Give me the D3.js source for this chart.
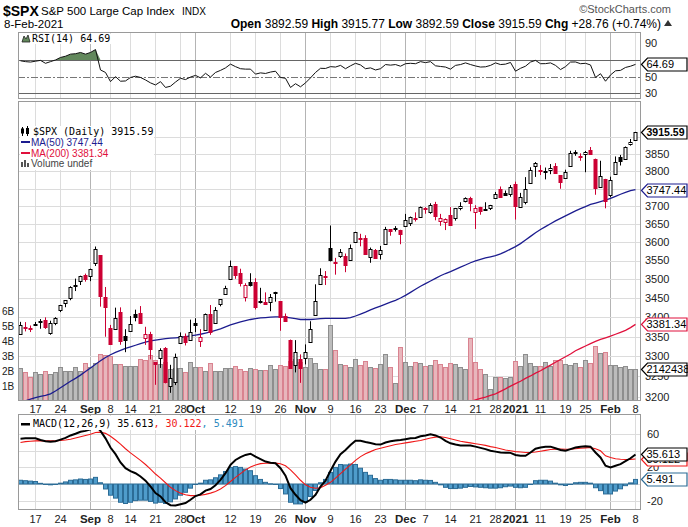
<!DOCTYPE html>
<html><head><meta charset="utf-8">
<script src="https://cdn.jsdelivr.net/npm/d3@7"></script>
<style>body{margin:0;background:#fff}svg{display:block}</style>
</head><body><svg id="c" width="688" height="527" font-family="Liberation Sans, Arial, sans-serif"></svg>
<script>
const dates = ["2020-08-12","2020-08-13","2020-08-14","2020-08-17","2020-08-18","2020-08-19","2020-08-20","2020-08-21","2020-08-24","2020-08-25","2020-08-26","2020-08-27","2020-08-28","2020-08-31",
"2020-09-01","2020-09-02","2020-09-03","2020-09-04","2020-09-08","2020-09-09","2020-09-10","2020-09-11","2020-09-14","2020-09-15","2020-09-16","2020-09-17","2020-09-18","2020-09-21","2020-09-22","2020-09-23","2020-09-24","2020-09-25","2020-09-28","2020-09-29","2020-09-30",
"2020-10-01","2020-10-02","2020-10-05","2020-10-06","2020-10-07","2020-10-08","2020-10-09","2020-10-12","2020-10-13","2020-10-14","2020-10-15","2020-10-16","2020-10-19","2020-10-20","2020-10-21","2020-10-22","2020-10-23","2020-10-26","2020-10-27","2020-10-28","2020-10-29","2020-10-30",
"2020-11-02","2020-11-03","2020-11-04","2020-11-05","2020-11-06","2020-11-09","2020-11-10","2020-11-11","2020-11-12","2020-11-13","2020-11-16","2020-11-17","2020-11-18","2020-11-19","2020-11-20","2020-11-23","2020-11-24","2020-11-25","2020-11-27","2020-11-30",
"2020-12-01","2020-12-02","2020-12-03","2020-12-04","2020-12-07","2020-12-08","2020-12-09","2020-12-10","2020-12-11","2020-12-14","2020-12-15","2020-12-16","2020-12-17","2020-12-18","2020-12-21","2020-12-22","2020-12-23","2020-12-24","2020-12-28","2020-12-29","2020-12-30","2020-12-31",
"2021-01-04","2021-01-05","2021-01-06","2021-01-07","2021-01-08","2021-01-11","2021-01-12","2021-01-13","2021-01-14","2021-01-15","2021-01-19","2021-01-20","2021-01-21","2021-01-22","2021-01-25","2021-01-26","2021-01-27","2021-01-28","2021-01-29",
"2021-02-01","2021-02-02","2021-02-03","2021-02-04","2021-02-05","2021-02-08"];

const prevClose = 3333.69;
const open = [3355.46,3372.95,3368.66,3380.86,3387.04,3392.51,3360.48,3386.01,3418.09,3435.95,3449.97,3485.14,3494.69,3509.73,3507.44,3543.76,3564.74,3453.60,3371.88,3369.82,3412.56,3352.70,3363.56,3407.73,3411.23,3346.86,3357.38,3285.57,3295.75,3320.11,3226.14,3236.66,3333.90,3350.92,3341.21,3385.87,3338.94,3367.27,3408.74,3384.56,3434.28,3459.67,3500.02,3534.01,3515.47,3453.72,3493.50,3493.66,3439.38,3439.91,3438.50,3464.90,3441.42,3403.15,3342.48,3277.17,3293.59,3296.20,3336.25,3406.46,3485.74,3508.34,3583.04,3543.26,3563.22,3562.67,3552.57,3600.16,3610.31,3612.09,3559.41,3579.31,3566.82,3594.52,3635.50,3638.55,3634.18,3645.87,3653.78,3668.28,3670.94,3694.73,3683.05,3705.98,3659.13,3656.08,3675.27,3666.41,3696.25,3713.65,3722.39,3684.28,3698.08,3693.42,3694.03,3723.03,3750.01,3736.19,3733.27,3764.61,3698.02,3712.20,3764.71,3815.05,3803.14,3801.62,3802.23,3814.98,3788.73,3781.88,3816.22,3857.46,3844.24,3851.68,3862.96,3836.83,3755.75,3778.05,3731.17,3791.84,3840.27,3836.66,3878.30,3892.59];
const high = [3387.89,3387.24,3378.51,3387.59,3395.06,3399.54,3390.80,3399.96,3432.09,3444.21,3481.07,3501.38,3509.23,3514.77,3528.03,3588.11,3564.85,3479.15,3379.97,3424.77,3425.55,3368.95,3402.93,3419.48,3428.92,3375.17,3362.27,3285.57,3320.31,3323.35,3278.70,3306.88,3360.74,3357.92,3393.56,3397.18,3369.10,3409.57,3431.56,3426.26,3447.28,3482.34,3549.85,3534.01,3527.94,3489.08,3515.76,3502.42,3476.93,3464.86,3460.53,3466.46,3441.42,3409.51,3342.48,3341.05,3304.93,3330.14,3389.49,3486.25,3529.05,3521.58,3645.99,3557.22,3581.16,3569.02,3593.66,3628.51,3623.11,3619.09,3585.22,3581.23,3589.81,3642.31,3635.50,3644.31,3634.18,3678.45,3670.96,3682.73,3699.20,3697.41,3708.45,3712.39,3678.49,3665.91,3697.61,3695.29,3711.27,3725.12,3726.70,3702.90,3698.26,3711.24,3703.82,3740.51,3756.12,3744.63,3760.20,3769.99,3737.83,3783.04,3811.55,3826.69,3817.86,3810.78,3820.96,3823.60,3788.73,3804.53,3859.75,3861.45,3852.31,3859.23,3870.90,3836.83,3830.50,3778.05,3784.32,3843.09,3847.51,3872.42,3894.56,3915.77];
const low = [3355.46,3363.35,3361.64,3379.22,3370.15,3369.66,3354.69,3379.31,3413.13,3425.84,3444.15,3468.35,3484.32,3493.25,3494.60,3535.23,3427.41,3349.63,3329.27,3366.84,3329.25,3310.47,3363.56,3389.25,3384.45,3328.82,3292.40,3229.10,3270.95,3232.57,3209.45,3228.44,3332.91,3327.54,3340.47,3361.39,3323.69,3367.27,3354.54,3384.56,3428.15,3458.07,3499.61,3500.86,3480.55,3440.89,3480.45,3419.93,3435.65,3433.06,3415.34,3440.45,3364.86,3388.71,3268.89,3259.82,3233.94,3279.74,3336.25,3405.17,3485.74,3484.34,3547.48,3511.91,3557.00,3518.58,3552.57,3600.16,3588.68,3567.33,3543.84,3556.85,3552.77,3594.52,3617.76,3629.33,3594.39,3645.87,3644.84,3657.17,3670.94,3678.88,3678.83,3660.54,3645.18,3633.40,3645.84,3659.62,3688.57,3710.87,3685.84,3636.48,3676.16,3689.28,3689.32,3723.03,3723.31,3730.21,3726.88,3662.71,3695.07,3705.34,3764.71,3783.60,3789.02,3776.51,3791.50,3792.86,3749.62,3780.37,3816.22,3845.05,3830.41,3797.16,3847.78,3732.48,3755.75,3694.12,3725.62,3791.84,3816.68,3836.66,3874.93,3892.59];
const close = [3380.35,3373.43,3372.85,3381.99,3389.78,3374.85,3385.51,3397.16,3431.28,3443.62,3478.73,3484.55,3508.01,3500.31,3526.65,3580.84,3455.06,3426.96,3331.84,3398.96,3339.19,3340.97,3383.54,3401.20,3385.49,3357.01,3319.47,3281.06,3315.57,3236.92,3246.59,3298.46,3351.60,3335.47,3363.00,3380.80,3348.42,3408.60,3360.97,3419.44,3446.83,3477.14,3534.22,3511.93,3488.67,3483.34,3483.81,3426.92,3443.12,3435.56,3453.49,3465.39,3400.97,3390.68,3271.03,3310.11,3269.96,3310.24,3369.16,3443.44,3510.45,3509.44,3550.50,3545.53,3572.66,3537.01,3585.15,3626.91,3609.53,3567.79,3581.87,3557.54,3577.59,3635.41,3629.65,3638.35,3621.63,3662.45,3669.01,3666.72,3699.12,3691.96,3702.25,3672.82,3668.10,3663.46,3647.49,3694.62,3701.17,3722.48,3709.41,3694.92,3687.26,3690.01,3703.06,3735.36,3727.04,3732.04,3756.07,3700.65,3726.86,3748.14,3803.79,3824.68,3799.61,3801.19,3809.84,3795.54,3768.25,3798.91,3851.85,3853.07,3841.47,3855.36,3849.62,3750.77,3787.38,3714.24,3773.86,3826.31,3830.17,3871.74,3886.83,3915.59];
// volume in billions
const volume = [2.18,1.91,1.62,1.91,1.78,1.98,1.80,1.93,2.24,2.00,2.00,2.24,2.00,2.52,2.24,2.53,3.13,3.05,3.02,2.50,2.50,2.33,2.33,2.33,2.80,2.76,3.07,2.71,2.44,2.58,2.15,2.18,2.18,1.91,2.58,2.29,2.29,1.98,2.51,2.02,2.02,2.18,2.18,2.31,2.11,1.98,2.18,2.11,2.04,2.04,2.38,2.11,2.38,2.31,2.64,2.78,2.62,2.24,2.84,2.51,2.11,2.11,5.05,3.40,2.44,2.38,2.24,2.80,2.38,2.64,2.24,2.18,2.44,3.11,2.24,1.18,3.58,2.58,2.31,2.58,2.51,2.31,2.40,2.71,2.44,2.24,2.51,2.44,2.24,2.11,4.18,2.58,2.11,1.78,0.78,1.58,1.58,1.53,1.58,2.64,2.31,3.11,2.51,2.31,2.31,2.58,2.31,2.71,2.71,2.44,2.38,2.51,2.24,2.71,2.51,3.69,3.18,3.24,2.38,2.38,2.24,2.31,2.11,2.142438];
const ma50 = [3186,3190,3194,3198,3201,3203,3207,3214,3222,3230,3238,3245,3253,3262,3271,3280,3289,3297,3304,3310,3315,3320,3324,3328,3332,3336,3339,3341,3343,3345,3346,3347,3348,3350,3352,3354,3356,3359,3362,3366,3370,3375,3380,3384,3388,3391,3394,3396,3398,3399,3400,3401,3401,3400,3398,3396,3394,3394,3394,3395,3396,3397,3397,3397,3397,3397,3399,3403,3408,3413,3419,3424,3429,3434,3439,3444,3450,3457,3465,3473,3481,3488,3495,3502,3509,3515,3520,3526,3532,3538,3544,3549,3553,3557,3560,3563,3568,3574,3581,3588,3596,3606,3616,3626,3635,3643,3651,3659,3666,3673,3680,3687,3693,3699,3705,3709,3713,3717,3722,3728,3734,3739,3744,3747.44];
const ma200 = [null,null,null,null,null,null,null,null,null,null,null,null,null,null,null,null,null,null,null,null,null,null,null,null,null,null,null,null,null,null,null,null,null,null,null,null,null,null,null,null,null,null,null,null,null,null,null,null,null,null,null,null,null,null,null,null,null,null,null,null,null,null,null,null,null,null,null,null,null,null,null,null,null,null,null,null,null,null,null,null,null,null,null,null,null,null,
3174,3177,3180,3184,3188,3192,3196,3199,3203,3207,3213,3219,3226,3232,3238,3245,3251,3258,3264,3271,3278,3285,3292,3299,3306,3314,3320,3326,3332,3338,3343,3347,3351,3356,3361,3366,3373,3381.34];
const rsi = [69,68,67.5,68.5,69.5,66,68,70,73,74.5,77,77.5,79,77,79,82.5,58,55,44,50,44.5,44.8,49,50.5,49,46,42.5,40,44,37,38.5,43.5,48,46.5,49.5,51.5,48.5,54,49.5,55,57.5,60.5,65,62,59.5,59,59,53,54.5,53.8,55.5,56.5,49,48,37,41.5,37.8,42.5,48.5,55,60,59.8,62,61.5,63.5,59.5,63,66,64,59.5,60.5,58,59.5,64.5,63.8,64.5,62.5,65.5,66,65.5,68,66.8,68,63,62.2,61.5,59,63.5,64.5,66.5,64.5,62.8,61.5,61.8,63.5,66.5,64.5,65,67,56.5,60,62.5,67.5,69.5,65.5,65.6,66.5,63.5,58.5,62,67.5,67.6,65.5,66,64,49,53.5,44.5,52,57,57.5,61,62.5,64.69];
const macd = [54.5,55,55,55,53,51.5,51,51.5,53.5,55.5,58.5,60.5,63,64,66,70,64,55,44,36,26,19,15.5,13,9,4,-3,-11,-15,-22,-25.5,-26,-24.5,-23,-19,-14.5,-12.5,-8,-6,-1.5,5,13,23,29,32.5,35,36.5,33,30,27,25.5,25,19,10,-5,-13,-19.5,-22.5,-19,-13,-3,4,16,27,36,41,47,52,52,50.5,49.5,48,47.5,50,51.5,52.5,53,54,55,55.5,57.5,58.5,59.8,58.5,56,52,49,47.5,46.5,46.5,46.5,45,43.5,42,40,39,38,37.7,37.5,35,34,34,38,42.5,44,45,45,43,41,40,42,44,45,45.5,45,38,32,22,20,22,24,27.5,31,35.613];
const signal = [50,51,51.5,52,52.2,52,52,52,52.5,53,54,55.5,57,58.5,60,62,62.5,61,57.5,53,48,42.5,37.5,33,28.5,23.5,18,12,7,1.5,-4,-8,-11,-13,-14,-14,-13.5,-12.5,-11,-9,-6,-2,3,8,12.5,17,20.5,23,24.5,25,25.2,25.2,24.5,22,17,11,4.5,-1,-4,-5.2,-4.5,-1.5,2,7,12.5,18,23,28.5,33,36.5,39,41.5,43,44.5,46,47.5,48.5,49.5,50.5,51.5,52.5,54,55.5,56.5,57,56,54.5,53,51.5,50.5,49.5,48.5,47.5,46.5,45,44,42.5,41,40,39,38.5,38,38,38.5,39.5,40.5,41.5,42,42,41.8,42,42.5,43,43.5,44,42.5,40,34,32,30.5,29.8,29.5,29.7,30.122];
const hist = [4.5,4,3.5,3,0.8,-0.5,-1,-0.5,1,2.5,4.5,5,6,5.5,6,8,1.5,-6,-13.5,-17,-22,-23.5,-22,-20,-19.5,-19.5,-21,-23,-22,-23.5,-21.5,-18,-13.5,-10,-5,-0.5,1,4.5,5,7.5,11,15,20,21,20,18,16,10,5.5,2,0.3,-0.2,-5.5,-12,-22,-24,-24,-21.5,-15,-7.8,1.5,5.5,14,20,23.5,23,24,23.5,19,14,10.5,6.5,4.5,5.5,5.5,5,4.5,4.5,4.5,4,5,4.5,4.3,2,-1,-4,-5.5,-5.5,-5,-4,-3,-3.5,-4,-4.5,-5,-5,-4.5,-3.3,-2.5,-4,-4.5,-4,0,4,4.5,4.5,3.5,1,-1,-1.8,0,1.5,2,2,1,-4.5,-8,-12,-12,-8.5,-5.8,-2,1.3,5.491];

const priceTicks = [3200,3250,3300,3350,3400,3450,3500,3550,3600,3650,3700,3750,3800,3850,3900];
const priceLabels = [3200,3250,3300,3350,3400,3450,3500,3550,3600,3650,3700,3800,3850];
const volTicks = [1,2,3,4,5,6];
const rsiTicks = [90,50,30];
const rsiLines = [70,30];
const macdGrid = [60,40,20,0,-20];
const macdLabels = [60,20,-20];
const xTickDates = ["2020-08-17","2020-08-24","2020-09-01","2020-09-08","2020-09-14","2020-09-21","2020-09-28","2020-10-01","2020-10-12","2020-10-19","2020-10-26","2020-11-02","2020-11-09","2020-11-16","2020-11-23","2020-12-01","2020-12-07","2020-12-14","2020-12-21","2020-12-28","2021-01-04","2021-01-11","2021-01-19","2021-01-25","2021-02-01","2021-02-08"];
const xTickLabels = ["17","24","Sep","8","14","21","28","Oct","12","19","26","Nov","9","16","23","Dec","7","14","21","28","2021","11","19","25","Feb","8"];
const xTickMonth = ["Sep","Oct","Nov","Dec","2021","Feb"];

const svg = d3.select("#c");
const L = 18, R = 641;
const rsiTop = 32, rsiBot = 99, mainTop = 101, mainBot = 401, macdTop = 414, macdBot = 510;
const RED = "#cc0033";
const MONO = "DejaVu Sans Mono, monospace";

const x = d3.scaleBand().domain(dates).range([18, 638]);
const cx = d => x(d) + 2.5;
const yP = d3.scaleLog().domain([3200, 3850]).range([396.7, 154.1]);
const yV = d3.scaleLinear().domain([0, 6]).range([401, 311]);
const yR = d3.scaleLinear().domain([30, 90]).range([93.3, 43.3]);
const yM = d3.scaleLinear().domain([-20, 60]).range([500.6, 434.2]);
const crisp = v => Math.round(v) + 0.5;

svg.append("rect").attr("width", 688).attr("height", 527).attr("fill", "#fff");

const defs = svg.append("defs");
[["clipR", rsiTop, rsiBot], ["clipM", mainTop, mainBot], ["clipD", macdTop, macdBot]].forEach(([id, t, b]) => {
  defs.append("clipPath").attr("id", id).append("rect").attr("x", L).attr("y", t).attr("width", R - L).attr("height", b - t);
});

function vgrid(t, b) {
  const g = svg.append("g");
  xTickDates.forEach((d, k) => {
    const xx = Math.floor(cx(d)) + 0.5;
    g.append("line").attr("x1", xx).attr("x2", xx).attr("y1", t).attr("y2", b)
      .attr("stroke", xTickMonth.includes(xTickLabels[k]) ? "#b4b4b4" : "#dcdcdc").attr("stroke-width", 1);
  });
}
function frame(t, b) {
  svg.append("rect").attr("x", L + 0.5).attr("y", t + 0.5).attr("width", R - L - 1).attr("height", b - t - 1)
    .attr("fill", "none").attr("stroke", "#9a9a9a");
}
function tag(y, text, stroke, bold) {
  const g = svg.append("g");
  const x0 = 641.5, w = 45.5, h = 13;
  const yy = Math.round(y) + 0.5;
  g.append("path").attr("d", `M${x0},${yy} L${x0 + 6},${yy - h / 2} L${x0 + w},${yy - h / 2} L${x0 + w},${yy + h / 2} L${x0 + 6},${yy + h / 2} Z`)
    .attr("fill", "#fff").attr("stroke", stroke).attr("stroke-width", 1.2);
  g.append("text").attr("x", x0 + 5).attr("y", yy).attr("dy", "0.36em").attr("font-size", bold ? 10.5 : 11)
    .attr("textLength", bold ? 38 : null)
    .attr("font-weight", bold ? "bold" : "normal").attr("fill", "#000").text(text);
}

// ---------- header ----------
svg.append("text").attr("x", 3).attr("y", 16).attr("font-size", 14).attr("font-weight", "bold").text("$SPX");
svg.append("text").attr("x", 41).attr("y", 15).attr("font-size", 11.5).text("S&P 500 Large Cap Index");
svg.append("text").attr("x", 182).attr("y", 15).attr("font-size", 10).text("INDX");
svg.append("text").attr("x", 671).attr("y", 13).attr("font-size", 11).attr("fill", "#555").attr("text-anchor", "end").text("©StockCharts.com");
svg.append("text").attr("x", 4).attr("y", 28).attr("font-size", 11.5).text("8-Feb-2021");
const st = svg.append("text").attr("x", 661).attr("y", 28).attr("font-size", 12).attr("text-anchor", "end");
[["Open ", true], ["3892.59 ", false], ["High ", true], ["3915.77 ", false], ["Low ", true], ["3892.59 ", false], ["Close ", true], ["3915.59 ", false], ["Chg ", true], ["+28.76 (+0.74%)", false]]
  .forEach(([t, b]) => st.append("tspan").attr("font-weight", b ? "bold" : "normal").text(t));
svg.append("path").attr("d", "M664,26 L668,20 L672,26 Z").attr("fill", "#333");

// ---------- RSI panel ----------
vgrid(rsiTop, rsiBot);
const gR = svg.append("g").attr("clip-path", "url(#clipR)");
gR.append("line").attr("x1", L).attr("x2", R).attr("y1", crisp(yR(50))).attr("y2", crisp(yR(50))).attr("stroke", "#777").attr("stroke-dasharray", "7,2,2,2");
rsiLines.forEach(v => gR.append("line").attr("x1", L).attr("x2", R).attr("y1", crisp(yR(v))).attr("y2", crisp(yR(v))).attr("stroke", "#666"));
const rsiPts = dates.map((d, i) => ({ x: cx(d), v: rsi[i] }));
gR.append("path").datum(rsiPts).attr("fill", "#62885c")
  .attr("d", d3.area().x(p => p.x).y0(yR(70)).y1(p => yR(Math.max(70, p.v))));
gR.append("path").datum(rsiPts).attr("fill", "none").attr("stroke", "#111").attr("stroke-width", 1)
  .attr("d", d3.line().x(p => p.x).y(p => yR(p.v)));
frame(rsiTop, rsiBot);
rsiTicks.forEach(v => svg.append("text").attr("x", 645).attr("y", yR(v)).attr("dy", "0.36em").attr("font-size", 11).attr("fill", "#222").text(v));
svg.append("rect").attr("x", 20).attr("y", 34).attr("width", 92).attr("height", 10).attr("fill", "#fff");
svg.append("path").attr("d", "M22,42 L24,36 L26,39 L28,35 L30,42 Z").attr("fill", "#62885c").attr("stroke", "#222").attr("stroke-width", 0.8);
svg.append("text").attr("x", 32).attr("y", 42).attr("font-family", MONO).attr("font-size", 10).text("RSI(14) 64.69");
tag(yR(64.69), "64.69", "#000", false);

// ---------- main panel ----------
vgrid(mainTop, mainBot);
const gM = svg.append("g").attr("clip-path", "url(#clipM)");
priceTicks.forEach(v => gM.append("line").attr("x1", L).attr("x2", R).attr("y1", crisp(yP(v))).attr("y2", crisp(yP(v))).attr("stroke", "#dcdcdc"));
dates.forEach((d, i) => {
  const pc = i === 0 ? prevClose : close[i - 1];
  const down = close[i] < pc;
  const yt = crisp(yV(volume[i]));
  gM.append("rect").attr("x", x(d) + 0.5).attr("y", yt).attr("width", 4).attr("height", Math.max(0, 401 - yt))
    .attr("fill", down ? "#e8b6bc" : "#bcbcbc").attr("stroke", down ? "#d98390" : "#8e8e8e").attr("stroke-width", 1);
});
gM.append("path").datum(dates.map((d, i) => [cx(d), ma50[i]])).attr("fill", "none").attr("stroke", "#1c1c8f").attr("stroke-width", 1.3)
  .attr("d", d3.line().x(p => p[0]).y(p => yP(p[1])));
gM.append("path").datum(dates.map((d, i) => [cx(d), ma200[i]])).attr("fill", "none").attr("stroke", "#e0103c").attr("stroke-width", 1.3)
  .attr("d", d3.line().defined(p => p[1] != null).x(p => p[0]).y(p => yP(p[1])));
dates.forEach((d, i) => {
  const pc = i === 0 ? prevClose : close[i - 1];
  const col = close[i] < pc ? RED : "#000";
  const hollow = close[i] > open[i];
  const wx = Math.floor(cx(d)) + 0.5;
  gM.append("line").attr("x1", wx).attr("x2", wx).attr("y1", yP(high[i])).attr("y2", yP(low[i])).attr("stroke", col);
  const yt = crisp(yP(Math.max(open[i], close[i])));
  let yb = crisp(yP(Math.min(open[i], close[i])));
  if (yb < yt + 1) yb = yt + 1;
  gM.append("rect").attr("x", wx - 1.5).attr("y", yt).attr("width", 3).attr("height", yb - yt)
    .attr("fill", hollow ? "#fff" : col).attr("stroke", col).attr("stroke-width", 1);
});
frame(mainTop, mainBot);
priceLabels.forEach(v => svg.append("text").attr("x", 645).attr("y", yP(v)).attr("dy", "0.36em").attr("font-size", 11).attr("fill", "#222").text(v));
volTicks.forEach(v => svg.append("text").attr("x", 2).attr("y", yV(v)).attr("dy", "0.36em").attr("font-size", 10).attr("fill", "#222").text(v + "B"));
const lg = svg.append("g");
lg.append("rect").attr("x", 20).attr("y", 126).attr("width", 134).attr("height", 44).attr("fill", "#fff");
lg.append("path").attr("d", "M22.5,127 v9 M27.5,126 v10").attr("stroke", "#000");
lg.append("rect").attr("x", 21).attr("y", 128.5).attr("width", 3).attr("height", 5).attr("fill", "#000");
lg.append("rect").attr("x", 26).attr("y", 128).attr("width", 3).attr("height", 6).attr("fill", "#000");
lg.append("text").attr("x", 33).attr("y", 135).attr("font-family", MONO).attr("font-size", 10).text("$SPX (Daily) 3915.59");
lg.append("rect").attr("x", 21).attr("y", 141).attr("width", 9).attr("height", 2).attr("fill", "#1c1c8f");
lg.append("text").attr("x", 31).attr("y", 146).attr("font-size", 10).attr("fill", "#1c1c8f").text("MA(50) 3747.44");
lg.append("rect").attr("x", 21).attr("y", 152).attr("width", 9).attr("height", 2).attr("fill", "#e0103c");
lg.append("text").attr("x", 31).attr("y", 157).attr("font-size", 10).attr("fill", "#e0103c").text("MA(200) 3381.34");
lg.append("path").attr("d", "M21,167 v-5 h2 v5 M24,167 v-7 h2 v7 M27,167 v-4 h2 v4").attr("fill", "#555");
lg.append("text").attr("x", 31).attr("y", 167).attr("font-size", 10).attr("fill", "#444").text("Volume undef");
tag(yV(2.142438), "2142438", "#000", false);
tag(yP(3381.34), "3381.34", "#e0103c", false);
tag(yP(3747.44), "3747.44", "#1c1c8f", false);
tag(yP(3915.59), "3915.59", "#000", true);

function xLabels(yy) {
  xTickDates.forEach((d, k) => {
    const m = xTickMonth.includes(xTickLabels[k]);
    svg.append("text").attr("x", cx(d)).attr("y", yy).attr("dy", "0.36em").attr("text-anchor", "middle")
      .attr("font-size", m ? 11.5 : 11).attr("font-weight", m ? "bold" : "normal").attr("fill", "#222").text(xTickLabels[k]);
  });
}
xLabels(409);

// ---------- MACD panel ----------
vgrid(macdTop, macdBot);
const gD = svg.append("g").attr("clip-path", "url(#clipD)");
macdGrid.forEach(v => gD.append("line").attr("x1", L).attr("x2", R).attr("y1", crisp(yM(v))).attr("y2", crisp(yM(v))).attr("stroke", "#dcdcdc"));
dates.forEach((d, i) => {
  const y0 = yM(0), y1 = yM(hist[i]);
  gD.append("rect").attr("x", x(d) + 0.5).attr("y", Math.min(y0, y1)).attr("width", 4).attr("height", Math.max(0.5, Math.abs(y1 - y0)))
    .attr("fill", "#4f9ccb").attr("stroke", "#2c6c96").attr("stroke-width", 1);
});
gD.append("path").datum(dates.map((d, i) => [cx(d), signal[i]])).attr("fill", "none").attr("stroke", "#f01818").attr("stroke-width", 1.1)
  .attr("d", d3.line().x(p => p[0]).y(p => yM(p[1])));
gD.append("path").datum(dates.map((d, i) => [cx(d), macd[i]])).attr("fill", "none").attr("stroke", "#000").attr("stroke-width", 2)
  .attr("d", d3.line().x(p => p[0]).y(p => yM(p[1])));
svg.append("rect").attr("x", 19).attr("y", 416).attr("width", 228).attr("height", 14).attr("fill", "#fff");
frame(macdTop, macdBot);
macdLabels.forEach(v => svg.append("text").attr("x", 647).attr("y", yM(v)).attr("dy", "0.36em").attr("font-size", 11).attr("fill", "#222").text(v));
svg.append("rect").attr("x", 21).attr("y", 423).attr("width", 9).attr("height", 2.5).attr("fill", "#000");
const mt = svg.append("text").attr("x", 33).attr("y", 427).attr("font-family", MONO).attr("font-size", 10);
mt.append("tspan").attr("fill", "#000").text("MACD(12,26,9) 35.613");
mt.append("tspan").attr("fill", "#f01818").text(", 30.122");
mt.append("tspan").attr("fill", "#2e8bc0").text(", 5.491");
tag(yM(30.122), "30.122", "#f01818", false);
tag(yM(35.613), "35.613", "#000", false);
tag(yM(5.491), "5.491", "#2c6c96", false);
xLabels(519);
</script></body></html>
